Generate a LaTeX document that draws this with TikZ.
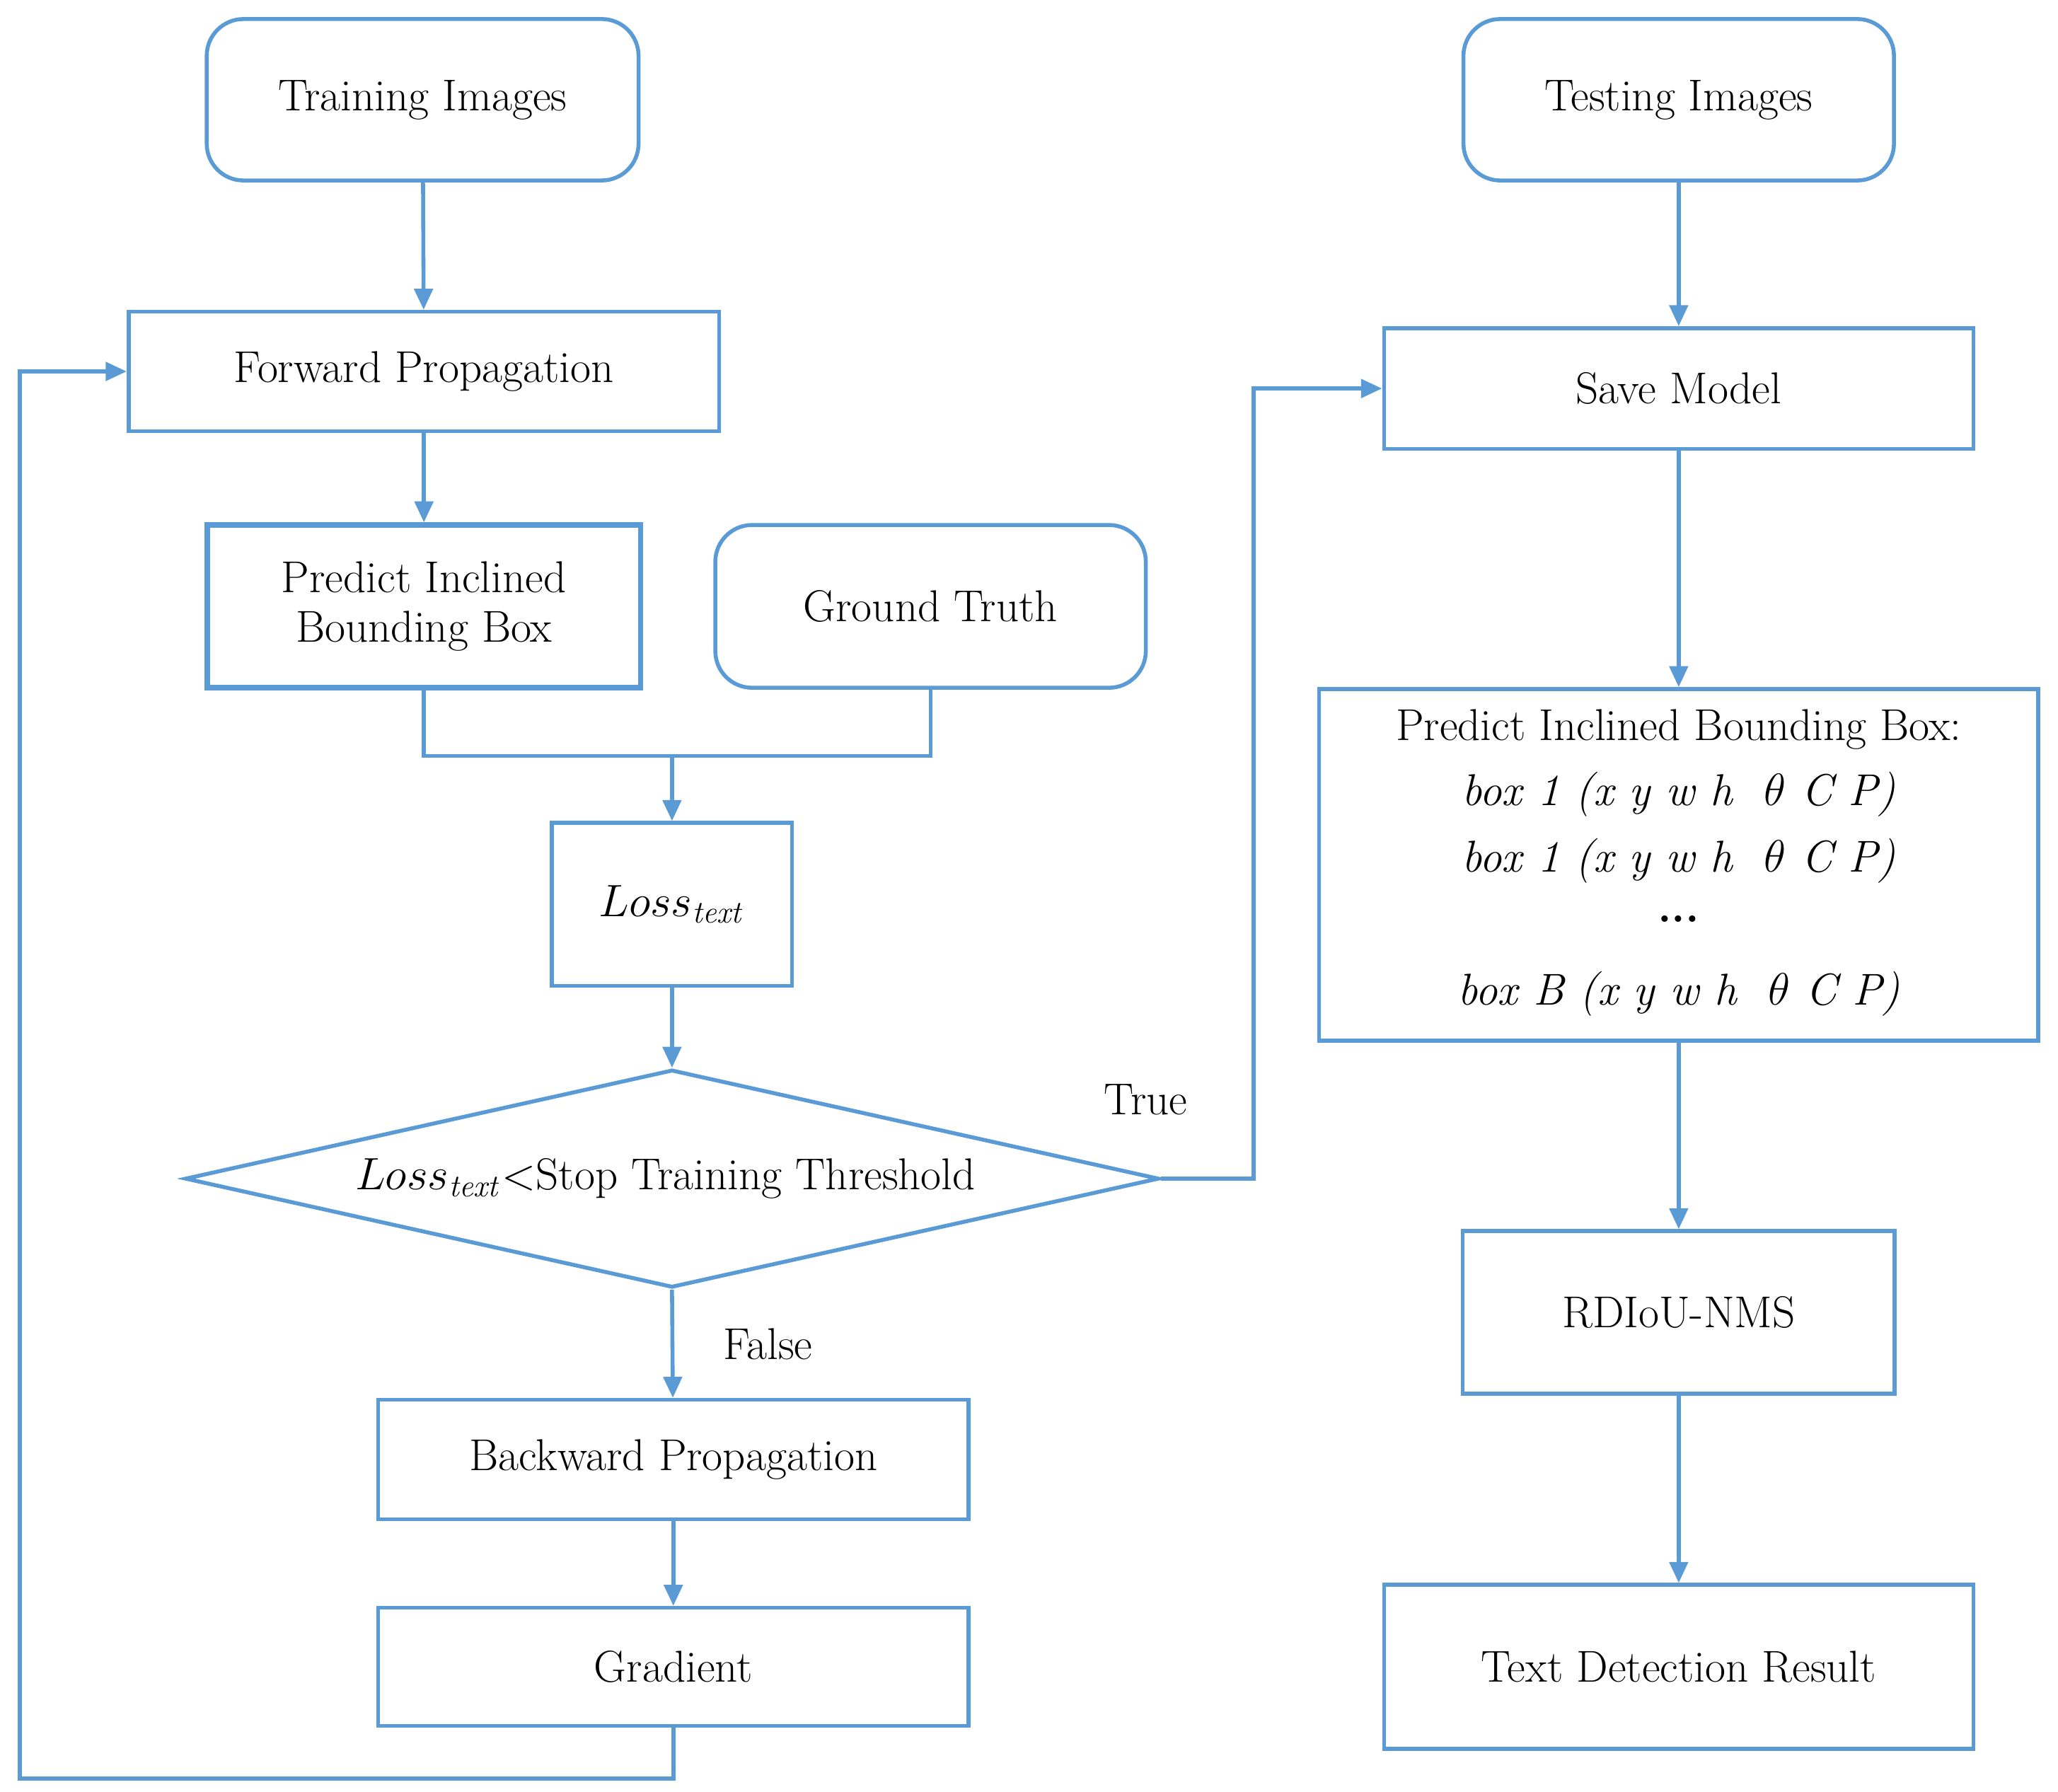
\documentclass[tikz,border=0pt]{standalone}
\usetikzlibrary{shapes.geometric,arrows.meta}
\begin{document}
\definecolor{bl}{RGB}{91,155,213}
\begin{tikzpicture}[x=0.5pt,y=-0.5pt,
  every node/.style={font=\fontsize{17}{21}\selectfont,align=center},
  box/.style={draw=bl,line width=1.5pt,rectangle,inner sep=0pt},
  rbox/.style={box,rounded corners=14pt},
  arr/.style={draw=bl,line width=1.5pt,-{Triangle[length=8pt,width=7pt]}},
  ln/.style={draw=bl,line width=1.5pt}]
\useasboundingbox (0,0) rectangle (1568,1365);
\node[rbox,minimum width=164.5pt,minimum height=61.5pt] (ti) at (322,76) {Training Images};
\node[box,minimum width=225pt,minimum height=45.5pt] (fp) at (323,283) {Forward Propagation};
\node[box,line width=2pt,minimum width=165pt,minimum height=62pt] (pb) at (323,462) {Predict Inclined\\[-2pt]Bounding Box};
\node[rbox,minimum width=164pt,minimum height=62pt] (gt) at (709,462) {Ground Truth};
\node[box,minimum width=91.5pt,minimum height=62pt] (lo) at (512,689) {$Loss_{\mathit{text}}$};
\node[draw=bl,line width=1.5pt,diamond,aspect=4.47,inner sep=0pt,minimum width=371pt,minimum height=83pt] (dm) at (512,898) {};
\node at (507,898) {$Loss_{\mathit{text}}$<Stop Training Threshold};
\node[box,minimum width=225pt,minimum height=45.5pt] (bp) at (513,1112) {Backward Propagation};
\node[box,minimum width=225pt,minimum height=45pt] (gr) at (513,1270) {Gradient};
\node[rbox,minimum width=164pt,minimum height=61.5pt] (te) at (1279,76) {Testing Images};
\node[box,minimum width=224.5pt,minimum height=46pt] (sm) at (1279,296) {Save Model};
\node[box,minimum width=274pt,minimum height=134pt] (pr) at (1279,659) {};
\node at (1279,556) {Predict Inclined Bounding Box:};
\node at (1279,605) {\textit{box 1 (x y w h \ $\theta$ C P)}};
\node at (1279,656) {\textit{box 1 (x y w h \ $\theta$ C P)}};
\node at (1279,700) {\textbf{...}};
\node at (1279,757) {\textit{box B (x y w h \ $\theta$ C P)}};
\node[box,minimum width=164.5pt,minimum height=62pt] (nm) at (1279,1000) {RDIoU-NMS};
\node[box,minimum width=224.5pt,minimum height=62.5pt] (tr) at (1279,1270) {Text Detection Result};
\node at (873,838) {True};
\node at (585,1024) {False};
\coordinate (m) at (512,576);
\coordinate (g1) at (513,1355); \coordinate (g2) at (15,1355); \coordinate (g3) at (15,283);
\coordinate (t1) at (955,898); \coordinate (t2) at (955,296);
\draw[arr] (ti) -- (fp);
\draw[arr] (fp) -- (pb);
\draw[ln] (pb.south) |- (m) -| (gt.south);
\draw[arr] (m) -- (lo);
\draw[arr] (lo) -- (dm.north);
\draw[arr] (dm.south) -- (bp);
\draw[arr] (bp) -- (gr);
\draw[arr] (gr.south) -- (g1) -- (g2) -- (g3) -- (fp.west);
\draw[arr] (dm.east) -- (t1) -- (t2) -- (sm.west);
\draw[arr] (te) -- (sm);
\draw[arr] (sm) -- (pr);
\draw[arr] (pr) -- (nm);
\draw[arr] (nm) -- (tr);
\end{tikzpicture}
\end{document}
